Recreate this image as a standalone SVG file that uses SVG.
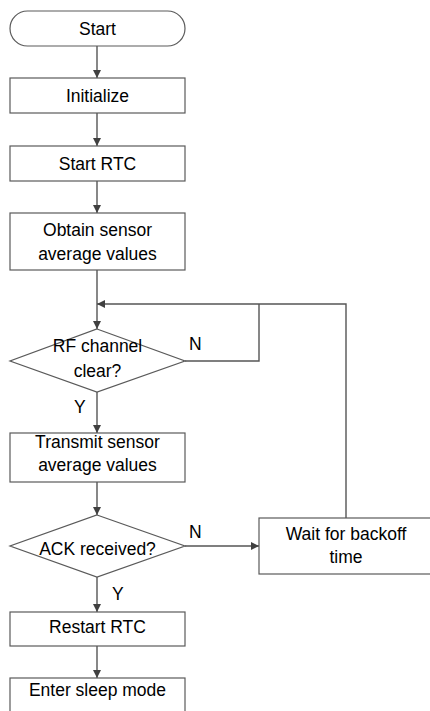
<svg xmlns="http://www.w3.org/2000/svg" width="430" height="711" viewBox="0 0 430 711">
<style>
.n{fill:#fff;stroke:#5a5a5a;stroke-width:1.2}
.t{font-family:"Liberation Sans",Arial,sans-serif;font-size:17.5px;fill:#000;text-anchor:middle}
.l{font-family:"Liberation Sans",Arial,sans-serif;font-size:17.5px;fill:#000}
.c{fill:none;stroke:#555;stroke-width:1.4}
</style>
<defs>
<marker id="a" viewBox="0 0 10 10" refX="10" refY="5" markerWidth="8" markerHeight="8" markerUnits="userSpaceOnUse" orient="auto">
<path d="M0,0 L10,5 L0,10 Z" fill="#404040"/>
</marker>
</defs>
<rect width="430" height="711" fill="#fff"/>
<g id="connectors">
<line class="c" x1="97" y1="46" x2="97" y2="78" marker-end="url(#a)"/>
<line class="c" x1="97" y1="113" x2="97" y2="146" marker-end="url(#a)"/>
<line class="c" x1="97" y1="181" x2="97" y2="213" marker-end="url(#a)"/>
<line class="c" x1="97" y1="270" x2="97" y2="329" marker-end="url(#a)"/>
<polyline class="c" points="185,361 259,361 259,304"/>
<polyline class="c" points="346,518 346,304 97,304" marker-end="url(#a)"/>
<line class="c" x1="97" y1="392" x2="97" y2="433" marker-end="url(#a)"/>
<line class="c" x1="97" y1="482" x2="97" y2="515" marker-end="url(#a)"/>
<line class="c" x1="185" y1="546" x2="259" y2="546" marker-end="url(#a)"/>
<line class="c" x1="97" y1="577" x2="97" y2="612" marker-end="url(#a)"/>
<line class="c" x1="97" y1="646" x2="97" y2="678" marker-end="url(#a)"/>
<text class="l" x="189" y="350">N</text>
<text class="l" x="74" y="413">Y</text>
<text class="l" x="189" y="538">N</text>
<text class="l" x="112" y="600">Y</text>
</g>
<g id="start"><rect class="n" x="10" y="11" width="175" height="35" rx="17.5"/><text class="t" x="97.5" y="35">Start</text></g>
<g id="init"><rect class="n" x="10" y="78" width="175" height="35"/><text class="t" x="97.5" y="102">Initialize</text></g>
<g id="rtc"><rect class="n" x="10" y="146" width="175" height="35"/><text class="t" x="97.5" y="170">Start RTC</text></g>
<g id="obtain"><rect class="n" x="10" y="213" width="175" height="57"/><text class="t" x="97.5" y="236">Obtain sensor</text><text class="t" x="97.5" y="260">average values</text></g>
<g id="rf"><polygon class="n" points="97,329 185,361 97,392 10,361"/><text class="t" x="97.5" y="352">RF channel</text><text class="t" x="97.5" y="377">clear?</text></g>
<g id="transmit"><rect class="n" x="10" y="433" width="175" height="49"/><text class="t" x="97.5" y="448">Transmit sensor</text><text class="t" x="97.5" y="471">average values</text></g>
<g id="ack"><polygon class="n" points="97,515 185,546 97,577 10,546"/><text class="t" x="97.5" y="555">ACK received?</text></g>
<g id="wait"><rect class="n" x="259" y="518" width="175" height="56"/><text class="t" x="346" y="540">Wait for backoff</text><text class="t" x="346" y="563">time</text></g>
<g id="restart"><rect class="n" x="10" y="612" width="175" height="34"/><text class="t" x="97.5" y="633">Restart RTC</text></g>
<g id="sleep"><rect class="n" x="10" y="678" width="175" height="40"/><text class="t" x="97.5" y="696">Enter sleep mode</text></g>
</svg>
